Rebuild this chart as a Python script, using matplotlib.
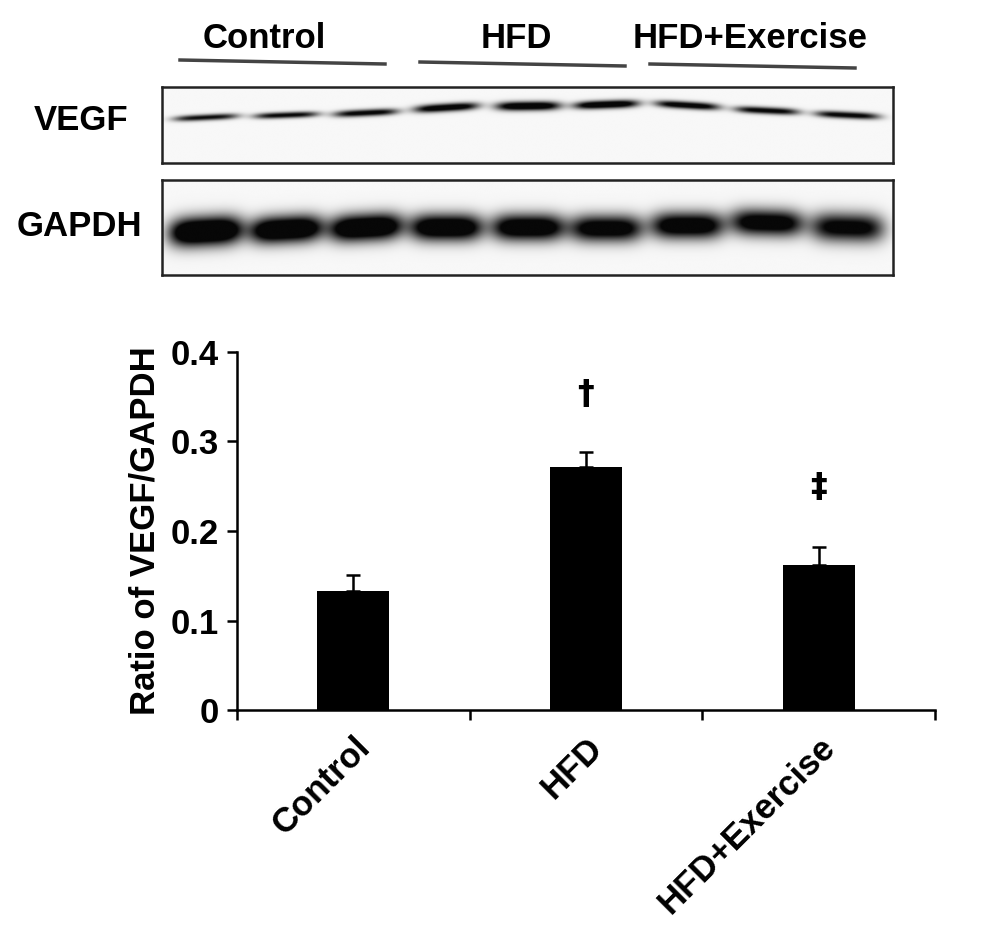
import numpy as np
import matplotlib
matplotlib.use('Agg')
import matplotlib.pyplot as plt

plt.rcParams['font.family'] = ['Liberation Sans', 'DejaVu Sans']
plt.rcParams['font.weight'] = 'bold'

groups = ['Control', 'HFD', 'HFD+Exercise']
ratio_mean = [0.133, 0.272, 0.162]
ratio_sem = [0.018, 0.016, 0.020]
marks = ['', '\u2020', '\u2021']
mark_y = [0.0, 0.352, 0.249]

# western blot, 3 lanes per group
lane_x = [0.060, 0.170, 0.279, 0.389, 0.501, 0.608, 0.719, 0.828, 0.938]
vegf_strength = [1.0, 1.05, 1.1, 1.25, 1.35, 1.35, 1.2, 1.1, 1.1]
vegf_pos = [0.40, 0.37, 0.34, 0.27, 0.25, 0.23, 0.24, 0.31, 0.37]
vegf_thick = [0.040, 0.040, 0.045, 0.052, 0.058, 0.052, 0.048, 0.045, 0.045]
vegf_tilt = [-0.04, -0.03, -0.04, -0.05, -0.01, -0.03, 0.05, 0.04, 0.04]
gapdh_strength = [1.6, 1.5, 1.5, 1.4, 1.35, 1.25, 1.3, 1.25, 1.15]
gapdh_pos = [0.54, 0.52, 0.50, 0.50, 0.50, 0.51, 0.48, 0.45, 0.50]
gapdh_thick = [0.15, 0.14, 0.14, 0.14, 0.14, 0.14, 0.14, 0.14, 0.15]
gapdh_tilt = [-0.04, -0.04, -0.04, 0.0, 0.0, 0.0, 0.0, 0.02, 0.02]


def draw_blot(ax, strength, pos, thick, tilt, width):
    xx = np.linspace(0, 1, 1400)
    yy = np.linspace(0, 1, 300)
    X, Y = np.meshgrid(xx, yy)
    img = np.zeros_like(X)
    for i in range(len(lane_x)):
        u = (X - lane_x[i]) / (width / 2)
        yc = pos[i] + tilt[i] * u / 2
        img += strength[i] * np.exp(-u ** 4) * np.exp(-((Y - yc) / thick[i]) ** 2)
    ax.imshow(0.97 - 0.94 * np.clip(img, 0, 1), cmap='gray', vmin=0, vmax=1,
              extent=(0, 1, 1, 0), aspect='auto', interpolation='bilinear')
    ax.set_xlim(0, 1)
    ax.set_ylim(1, 0)
    ax.set_xticks([])
    ax.set_yticks([])
    for s in ax.spines.values():
        s.set_linewidth(1.8)
        s.set_color('#222222')


fig = plt.figure(figsize=(9.9, 9.3), dpi=100)

# overlay in pixel coordinates for blot labels
ov = fig.add_axes([0, 0, 1, 1])
ov.set_xlim(0, 990)
ov.set_ylim(930, 0)
ov.axis('off')

fs = 25
for name, cx in zip(groups, [264, 516, 750]):
    ov.text(cx, 38, name, ha='center', va='center', fontsize=fs, fontweight='bold')
for x0, x1, y0, y1 in [(180, 385, 60, 64), (420, 625, 62, 66), (650, 855, 64, 68)]:
    ov.plot([x0, x1], [y0, y1], color='#444444', lw=2.5)
ov.text(81, 121, 'VEGF', ha='center', va='center', fontsize=fs, fontweight='bold')
ov.text(79, 226, 'GAPDH', ha='center', va='center', fontsize=fs, fontweight='bold')

ax_v = fig.add_axes([162 / 990, 1 - 163 / 930, 731 / 990, 76 / 930])
draw_blot(ax_v, vegf_strength, vegf_pos, vegf_thick, vegf_tilt, 0.088)
ax_g = fig.add_axes([162 / 990, 1 - 275 / 930, 731 / 990, 95 / 930])
draw_blot(ax_g, gapdh_strength, gapdh_pos, gapdh_thick, gapdh_tilt, 0.10)

# bar chart
ax = fig.add_axes([237 / 990, 1 - 710 / 930, 698 / 990, 358 / 930])
x = np.arange(len(groups))
ax.bar(x, ratio_mean, width=0.31, color='black', zorder=2)
ax.errorbar(x, ratio_mean, yerr=[np.zeros(len(x)), ratio_sem], fmt='none',
            ecolor='black', elinewidth=1.8, capsize=5, capthick=1.8, zorder=1)
for xi, m, my in zip(x, marks, mark_y):
    if m:
        ax.text(xi, my, m, ha='center', va='center', fontsize=24, fontweight='bold',
                family='DejaVu Sans')

ax.set_xlim(-0.5, 2.5)
ax.set_ylim(0, 0.4)
ax.set_yticks([0, 0.1, 0.2, 0.3, 0.4])
ax.set_yticklabels(['0', '0.1', '0.2', '0.3', '0.4'])
ax.set_xticks([-0.5, 0.5, 1.5, 2.5])
ax.set_xticklabels([])
ax.set_xticks(x, minor=True)
ax.set_xticklabels(groups, minor=True, rotation=45, ha='right', rotation_mode='anchor')
ax.tick_params(axis='x', which='minor', length=0, pad=15, labelsize=fs)
ax.tick_params(axis='both', which='major', direction='out', length=7, width=1.8,
               labelsize=fs, pad=6)
for s in ['top', 'right']:
    ax.spines[s].set_visible(False)
for s in ['left', 'bottom']:
    ax.spines[s].set_linewidth(1.8)
ax.set_ylabel('Ratio of VEGF/GAPDH', fontsize=fs, fontweight='bold')
ax.yaxis.set_label_coords(-0.108, 0.5)

fig.savefig('out.png', dpi=100)
